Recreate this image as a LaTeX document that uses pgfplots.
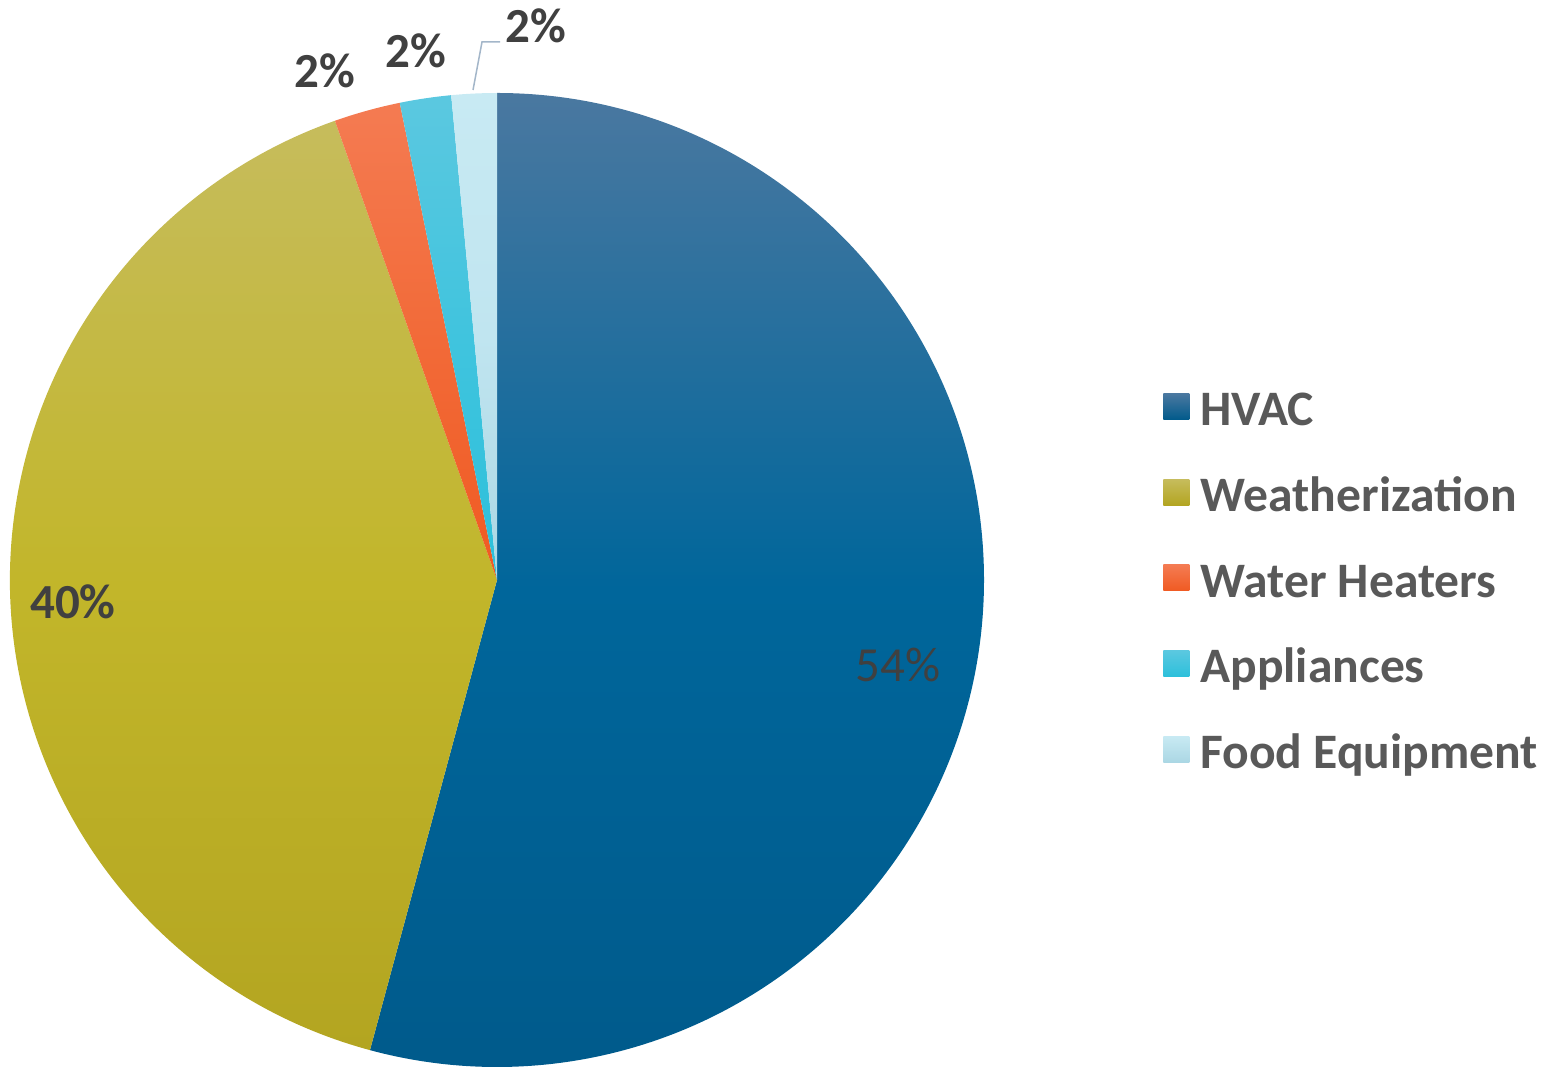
\documentclass[border=0pt]{standalone}
\usepackage{fontspec}
\setmainfont{Carlito}
\usepackage{pgfplots}
\usepackage{pgfplotstable}
\pgfplotsset{compat=1.18}

% slice colours: top / middle / bottom of each gradient
\definecolor{s0t}{HTML}{4A78A0}\definecolor{s0m}{HTML}{00669B}\definecolor{s0b}{HTML}{005A8B}
\definecolor{s1t}{HTML}{C6BC5C}\definecolor{s1m}{HTML}{C2B62A}\definecolor{s1b}{HTML}{B3A521}
\definecolor{s2t}{HTML}{F47B52}\definecolor{s2m}{HTML}{F26A38}\definecolor{s2b}{HTML}{F05A22}
\definecolor{s3t}{HTML}{5BC8E0}\definecolor{s3m}{HTML}{40C4DE}\definecolor{s3b}{HTML}{2CC0DB}
\definecolor{s4t}{HTML}{C8EAF3}\definecolor{s4m}{HTML}{C0E5F0}\definecolor{s4b}{HTML}{ABD7E4}
\definecolor{lbl}{HTML}{404040}
\definecolor{legtext}{HTML}{595959}
\definecolor{leader}{HTML}{A3B6C9}

% label weights (the 54% label is set in regular weight)
\expandafter\def\csname pieF0\endcsname{\mdseries}
\expandafter\def\csname pieF1\endcsname{\bfseries}
\expandafter\def\csname pieF2\endcsname{\bfseries}
\expandafter\def\csname pieF3\endcsname{\bfseries}
\expandafter\def\csname pieF4\endcsname{\bfseries}

% share in percent, label position (px, y up)
\pgfplotstableread[col sep=comma]{
name,value,lx,ly
HVAC,54.2,898,389
Weatherization,40.4,73,452
Water Heaters,2.2,325,983
Appliances,1.7,416,1003
Food Equipment,1.5,536,1028
}\piedata

\begin{document}
\begin{tikzpicture}
% cumulative angles, clockwise from 12 o'clock
\def\acc{90}
\pgfplotsforeachungrouped \i in {0,...,4}{%
  \pgfplotstablegetelem{\i}{value}\of\piedata
  \let\val\pgfplotsretval
  \pgfmathsetmacro\nxt{\acc-3.6*\val}%
  \expandafter\xdef\csname pieS\i\endcsname{\acc}%
  \expandafter\xdef\csname pieE\i\endcsname{\nxt}%
  \expandafter\xdef\csname pieV\i\endcsname{\val}%
  \pgfplotstablegetelem{\i}{lx}\of\piedata
  \expandafter\xdef\csname pieX\i\endcsname{\pgfplotsretval}%
  \pgfplotstablegetelem{\i}{ly}\of\piedata
  \expandafter\xdef\csname pieY\i\endcsname{\pgfplotsretval}%
  \xdef\acc{\nxt}%
}
\begin{axis}[
  width=779pt, height=535.5pt, scale only axis,
  xmin=0, xmax=1558, ymin=0, ymax=1071,
  hide axis, clip=false,
  legend style={draw=none, fill=none, inner sep=0pt,
    at={(axis cs:1163,486)}, anchor=west,
    font=\bfseries\fontsize{24.8}{24.8}\selectfont, text=legtext,
    nodes={inner sep=0pt, text height=17pt, text depth=5pt},
    row sep=20.8pt, column sep=5.5pt},
  legend cell align=left,
]
\path (axis cs:0,0) (axis cs:1558,1071);

\pgfplotsinvokeforeach{0,...,4}{
  \path[top color=s#1t, bottom color=s#1b, middle color=s#1m]
    (axis cs:497,491) -- ++(\csname pieS#1\endcsname:243.5pt)
    arc[start angle=\csname pieS#1\endcsname, end angle=\csname pieE#1\endcsname, radius=243.5pt]
    -- cycle;
}

% data labels
\pgfplotsinvokeforeach{0,...,4}{
  \node[anchor=base, text=lbl, font=\csname pieF#1\endcsname\fontsize{24.5}{24.5}\selectfont]
    at (axis cs:\csname pieX#1\endcsname,\csname pieY#1\endcsname)
    {\pgfmathprintnumber[fixed,precision=0,assume math mode=true]{\csname pieV#1\endcsname}\%};
}
\draw[leader, line width=0.75pt] (axis cs:473,981) -- (axis cs:482,1029) -- (axis cs:500,1029);

\pgfplotsinvokeforeach{0,...,4}{
  \addlegendimage{legend image code/.code={\path[draw=none, top color=s#1t, bottom color=s#1b] (0pt,-3pt) rectangle (13pt,10pt);}}
}
\legend{HVAC, Weatherization, Water Heaters, Appliances, Food Equipment}
\end{axis}
\pgfresetboundingbox
\path[use as bounding box] (current axis.south west) rectangle (current axis.north east);
\end{tikzpicture}
\end{document}
